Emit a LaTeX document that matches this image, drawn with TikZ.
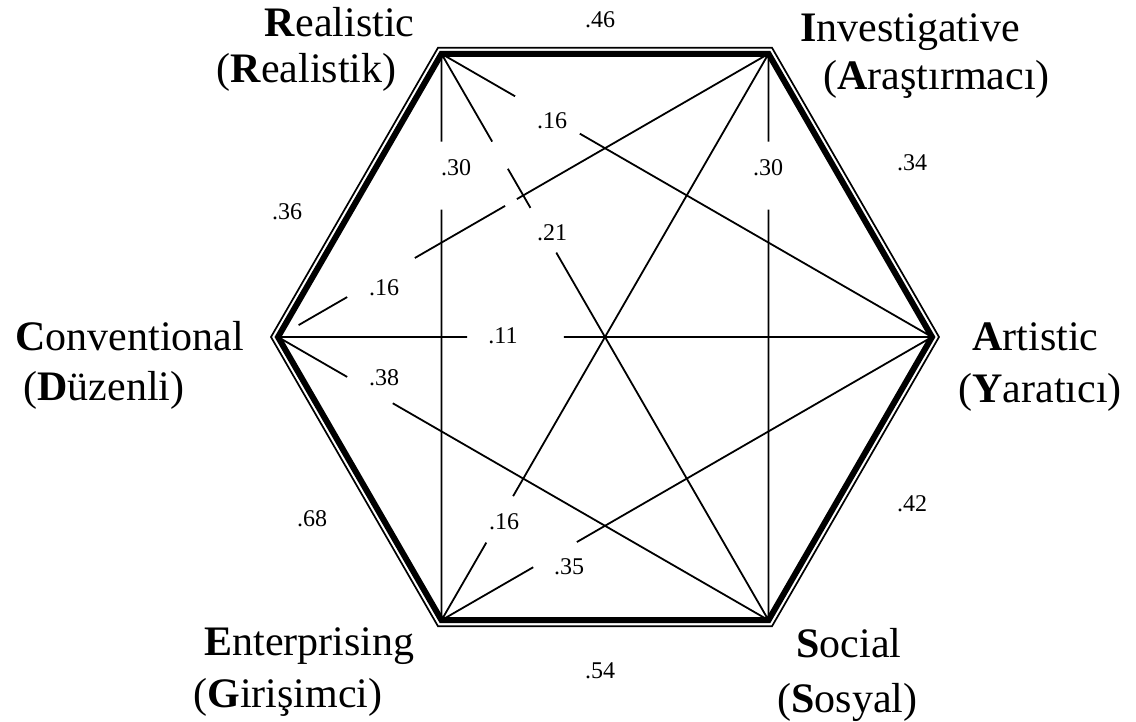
\documentclass[tikz,border=0pt]{standalone}
\usepackage{fontspec}
\setmainfont{Liberation Serif}
\usetikzlibrary{calc}

\begin{document}
\begin{tikzpicture}[x=0.5pt,y=-0.5pt,
		big/.style={inner sep=0pt,font=\fontsize{21}{25}\selectfont},
		val/.style={inner sep=0pt,font=\fontsize{12}{14}\selectfont},
		link/.style={line width=0.9pt}]
		\useasboundingbox (0,0) rectangle (1136,722);
		\coordinate(O) at (605,337);
		\foreach \n/\a in {R/240,I/300,A/0,S/60,E/120,C/180}{
			\coordinate(\n) at ($(O)+(\a:327)$);
			\coordinate(\n2) at ($(O)+(\a:334)$);
		}
		
		% inner links, broken where the values sit
		\draw[link] (R) -- ($(R)!0.155!(E)$) ($(R)!0.275!(E)$) -- (E);
		\draw[link] (I) -- ($(I)!0.155!(S)$) ($(I)!0.275!(S)$) -- (S);
		\draw[link] (R) -- ($(R)!0.15!(A)$) ($(R)!0.282!(A)$) -- (A);
		\draw[link] (R) -- ($(R)!0.155!(S)$) ($(R)!0.203!(S)$) -- ($(R)!0.272!(S)$) ($(R)!0.351!(S)$) -- (S);
		\draw[link] (I) -- ($(I)!0.513!(C)$) ($(I)!0.537!(C)$) -- ($(I)!0.721!(C)$) ($(I)!0.859!(C)$) -- ($(I)!0.958!(C)$);
		\draw[link] (C) -- ($(C)!0.289!(A)$) ($(C)!0.437!(A)$) -- (A);
		\draw[link] (C) -- ($(C)!0.141!(S)$) ($(C)!0.234!(S)$) -- (S);
		\draw[link] (E) -- ($(E)!0.137!(I)$) ($(E)!0.219!(I)$) -- (I);
		\draw[link] (E) -- ($(E)!0.187!(A)$) ($(E)!0.276!(A)$) -- (A);
		
		% hexagon
		\draw[line width=3pt] (R) -- (I) -- (A) -- (S) -- (E) -- (C) -- cycle;
		\draw[line width=0.85pt] (R2) -- (I2) -- (A2) -- (S2) -- (E2) -- (C2) -- cycle;
		
		\node (vRI) [val] at (600,20) {.46};
		\node (vIA) [val] at (912,163) {.34};
		\node (vAS) [val] at (912,504) {.42};
		\node (vSE) [val] at (600,671) {.54};
		\node (vEC) [val] at (312,519) {.68};
		\node (vCR) [val] at (287,212) {.36};
		\node (vRE) [val] at (456,168) {.30};
		\node (vIS) [val] at (768,168) {.30};
		\node (vRA) [val] at (552,121) {.16};
		\node (vRS) [val] at (552,233) {.21};
		\node (vIC) [val] at (384,288) {.16};
		\node (vCA) [val] at (503,336) {.11};
		\node (vCS) [val] at (384,378) {.38};
		\node (vEI) [val] at (504,522) {.16};
		\node (vEA) [val] at (569,567) {.35};
		
		\node (real) [big,anchor=base east] at (415,37) {\textbf{R}ealistic};
		\node (realt) [big,anchor=base east] at (397,83) {(\textbf{R}ealistik)};
		\node (inv) [big,anchor=base west] at (800,42) {\textbf{I}nvestigative};
		\node (invt) [big,anchor=base west] at (823,90) {(\textbf{A}raştırmacı)};
		\node (art) [big,anchor=base west] at (972,350) {\textbf{A}rtistic};
		\node (artt) [big,anchor=base west] at (958,402) {(\textbf{Y}aratıcı)};
		\node (soc) [big,anchor=base west] at (796,657) {\textbf{S}ocial};
		\node (soct) [big,anchor=base west] at (777,712) {(\textbf{S}osyal)};
		\node (ent) [big,anchor=base east] at (415,655) {\textbf{E}nterprising};
		\node (entt) [big,anchor=base east] at (383,707) {(\textbf{G}irişimci)};
		\node (conv) [big,anchor=base west] at (15,350) {\textbf{C}onventional};
		\node (convt) [big,anchor=base west] at (23,400) {(\textbf{D}üzenli)};
	\end{tikzpicture}
\end{document}
